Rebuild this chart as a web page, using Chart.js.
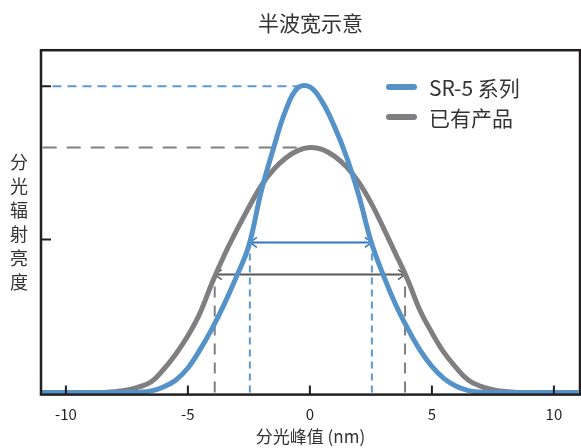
<!DOCTYPE html>
<html>
<head>
<meta charset="utf-8">
<script src="https://cdn.jsdelivr.net/npm/chart.js@4"></script>
<style>
  html, body { margin: 0; padding: 0; background: #fff; }
  #wrap { width: 581px; height: 448px; }
</style>
</head>
<body>
<div id="wrap"><canvas id="myChart"></canvas></div>
<script>
// x positions (nm) and the two curves
const xValues = [-11, -10.5, -10, -9.5, -9, -8.5, -8, -7.5, -7, -6.5, -6, -5.5, -5, -4.5, -4, -3.5, -3, -2.5, -2, -1.5, -1, -0.5,
  0, 0.5, 1, 1.5, 2, 2.5, 3, 3.5, 4, 4.5, 5, 5.5, 6, 6.5, 7, 7.5, 8, 8.5, 9, 9.5, 10, 10.5, 11];
const sr5Values = [0, 0, 0, 0, 0, 0, 0, 0, 0.001, 0.005, 0.018, 0.04, 0.08, 0.14, 0.21, 0.29, 0.38, 0.48, 0.655, 0.795, 0.92, 0.995,
  0.998, 0.95, 0.87, 0.77, 0.645, 0.495, 0.385, 0.29, 0.21, 0.14, 0.085, 0.045, 0.02, 0.006, 0.001, 0, 0, 0, 0, 0, 0, 0, 0];
const oldValues = [0, 0, 0, 0, 0, 0, 0.002, 0.008, 0.018, 0.035, 0.075, 0.125, 0.185, 0.26, 0.36, 0.45, 0.53, 0.605, 0.675, 0.727, 0.765, 0.79,
  0.8, 0.794, 0.772, 0.737, 0.687, 0.62, 0.54, 0.455, 0.37, 0.27, 0.195, 0.13, 0.08, 0.04, 0.02, 0.009, 0.003, 0, 0, 0, 0, 0, 0];
const seriesNames = ["SR-5 系列", "已有产品"];
const xTicks = [-10, -5, 0, 5, 10];
const yTicks = [0.5, 1.0];

// half-width marks: peak x, peak y, left/right half points, level
const peakX = [-0.3, -0.5];
const peakY = [1.0, 0.8];
const halfLeft = [-2.46, -3.9];
const halfRight = [2.54, 3.9];
const halfLevel = [0.49, 0.385];

const blue = '#5592c8';
const gray = '#7f7f82';
const ink = '#231f20';
const font = '"Noto Sans CJK SC", "Noto Sans", sans-serif';

function toPoints(vals) {
  return xValues.map((x, i) => ({ x: x, y: vals[i] }));
}

function arrowHead(ctx, x, y, dir) {
  ctx.beginPath();
  ctx.moveTo(x - dir * 7, y - 5);
  ctx.lineTo(x, y);
  ctx.lineTo(x - dir * 7, y + 5);
  ctx.stroke();
}

const marks = {
  id: 'marks',
  beforeDatasetsDraw(chart) {
    const ctx = chart.ctx, xs = chart.scales.x, ys = chart.scales.y;
    const dashCol = ['#5b9bd5', '#7f7f7f'];
    const arrowCol = ['#2f77c0', '#595959'];
    const dashes = [[9, 6], [14, 10]];
    const vdashes = [[7, 5], [11, 8]];
    ctx.save();
    for (let i = 0; i < 2; i++) {
      ctx.strokeStyle = dashCol[i];
      ctx.lineWidth = 2;
      // horizontal dashed line to the peak
      ctx.setLineDash(dashes[i]);
      ctx.beginPath();
      ctx.moveTo(xs.getPixelForValue(i == 0 ? -10.55 : -10.95), ys.getPixelForValue(peakY[i]));
      ctx.lineTo(xs.getPixelForValue(peakX[i]), ys.getPixelForValue(peakY[i]));
      ctx.stroke();
      // vertical dashed lines
      ctx.setLineDash(vdashes[i]);
      [halfLeft[i], halfRight[i]].forEach(v => {
        ctx.beginPath();
        ctx.moveTo(xs.getPixelForValue(v), ys.getPixelForValue(0));
        ctx.lineTo(xs.getPixelForValue(v), ys.getPixelForValue(halfLevel[i]));
        ctx.stroke();
      });
      // double arrow
      ctx.setLineDash([]);
      ctx.strokeStyle = arrowCol[i];
      ctx.lineWidth = 2;
      const y = ys.getPixelForValue(halfLevel[i]);
      const x1 = xs.getPixelForValue(halfLeft[i]);
      const x2 = xs.getPixelForValue(halfRight[i]);
      ctx.beginPath();
      ctx.moveTo(x1, y);
      ctx.lineTo(x2, y);
      ctx.stroke();
      ctx.lineWidth = 1.5;
      arrowHead(ctx, x1, y, -1);
      arrowHead(ctx, x2, y, 1);
    }
    ctx.restore();
  },
  afterDraw(chart) {
    const ctx = chart.ctx, a = chart.chartArea, xs = chart.scales.x, ys = chart.scales.y;
    ctx.save();
    ctx.strokeStyle = ink;
    ctx.lineWidth = 2.5;
    ctx.strokeRect(a.left, a.top, a.right - a.left, a.bottom - a.top);
    ctx.lineWidth = 2;
    ctx.beginPath();
    xTicks.forEach(v => {
      const px = xs.getPixelForValue(v);
      ctx.moveTo(px, a.bottom);
      ctx.lineTo(px, a.bottom - 9);
    });
    yTicks.forEach(v => {
      const py = ys.getPixelForValue(v);
      ctx.moveTo(a.left, py);
      ctx.lineTo(a.left + 10, py);
    });
    ctx.stroke();

    // y axis title, one character per row
    ctx.fillStyle = '#333';
    ctx.font = '18px ' + font;
    ctx.textAlign = 'center';
    ctx.textBaseline = 'middle';
    const yTitle = '分光辐射亮度';
    for (let i = 0; i < yTitle.length; i++) {
      ctx.fillText(yTitle[i], 19, 162 + i * 24);
    }

    // legend
    const cols = [blue, gray];
    ctx.font = '21px ' + font;
    ctx.textAlign = 'left';
    ctx.lineCap = 'round';
    ctx.lineWidth = 6;
    for (let i = 0; i < 2; i++) {
      const ly = 87 + i * 30;
      ctx.strokeStyle = cols[i];
      ctx.beginPath();
      ctx.moveTo(389, ly);
      ctx.lineTo(414, ly);
      ctx.stroke();
      ctx.fillStyle = '#333';
      ctx.fillText(seriesNames[i], 429, ly + 1);
    }
    ctx.restore();
  }
};

const config = {
  type: 'line',
  data: {
    datasets: [{
      label: seriesNames[0],
      data: toPoints(sr5Values),
      borderColor: blue,
      borderWidth: 5,
      pointRadius: 0,
      tension: 0.4
    }, {
      label: seriesNames[1],
      data: toPoints(oldValues),
      borderColor: gray,
      borderWidth: 5,
      pointRadius: 0,
      tension: 0.4
    }]
  },
  options: {
    responsive: true,
    maintainAspectRatio: false,
    animation: false,
    layout: { padding: { left: 41, right: 1, top: 0, bottom: 1 } },
    plugins: {
      legend: { display: false },
      tooltip: { enabled: false },
      title: {
        display: true,
        text: '半波宽示意',
        fullSize: false,
        color: '#333',
        font: { family: font, size: 21, weight: 'normal' },
        padding: { top: 10, bottom: 15 }
      }
    },
    scales: {
      x: {
        type: 'linear',
        min: -11.02,
        max: 11.07,
        afterBuildTicks: s => { s.ticks = xTicks.map(v => ({ value: v })); },
        grid: { display: false, drawTicks: false },
        border: { display: false },
        ticks: { color: ink, padding: 11, font: { family: font, size: 15 } },
        title: {
          display: true,
          text: '分光峰值 (nm)',
          color: '#333',
          font: { family: font, size: 17 },
          padding: { top: -8, bottom: 0 }
        }
      },
      y: {
        display: false,
        min: -0.007,
        max: 1.118
      }
    }
  },
  plugins: [marks]
};

new Chart(document.getElementById('myChart'), config);
</script>
</body>
</html>
